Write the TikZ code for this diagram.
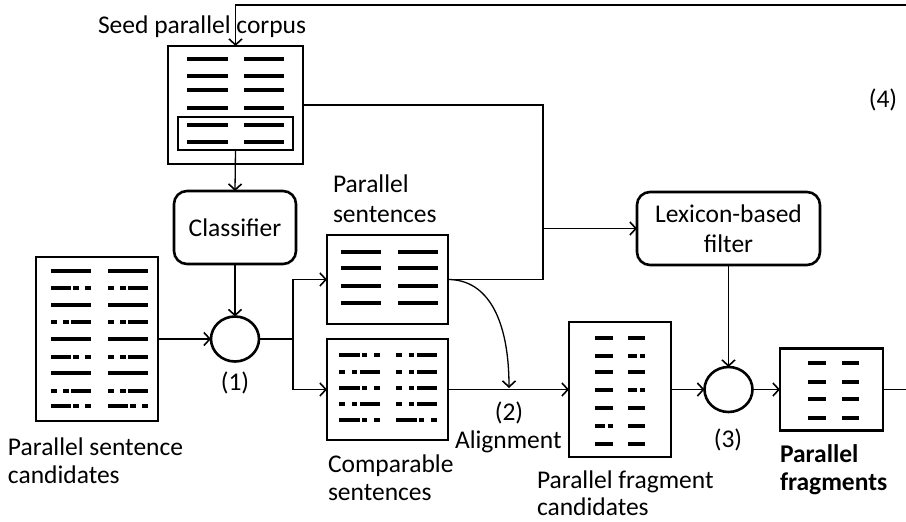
\documentclass[tikz,border=0pt]{standalone}
\usepackage{fontspec}
\setmainfont{Carlito}
\usetikzlibrary{arrows.meta,shapes.geometric,calc}
\newcommand\rowfull[3]{\draw[rowline] (#1,#2) -- ({#1+#3},#2);}
\newcommand\rowlead[3]{\draw[rowline] (#1,#2) -- ({#1+0.5*#3},#2) ({#1+0.55*#3},#2) -- ({#1+0.69*#3},#2) ({#1+0.85*#3},#2) -- ({#1+#3},#2);}
\newcommand\rowtrail[3]{\draw[rowline] (#1,#2) -- ({#1+0.15*#3},#2) ({#1+0.31*#3},#2) -- ({#1+0.45*#3},#2) ({#1+0.5*#3},#2) -- ({#1+#3},#2);}
\newcommand\rowfrag[3]{\draw[rowline] (#1,#2) -- ({#1+0.55*#3},#2) ({#1+0.72*#3},#2) -- ({#1+#3},#2);}
\begin{document}
\begin{tikzpicture}[x=1pt,y=-1pt,
  every node/.style={font=\fontsize{25.5}{28}\selectfont, inner sep=0pt, outer sep=0pt},
  docbox/.style={draw, line width=2.6pt, rectangle},
  procbox/.style={draw, line width=2.6pt, rectangle, rounded corners=13pt},
  judge/.style={draw, ellipse, line width=2.6pt, minimum width=48pt, minimum height=45pt},
  conn/.style={line width=1.3pt},
  arr/.style={conn, -{Straight Barb[length=6pt,width=13pt,line width=1.6pt]}},
  rowline/.style={line width=3.6pt, line cap=butt},
  lbl/.style={anchor=base west, align=left}]
\useasboundingbox (0,0) rectangle (906,522);
\clip (0,0) rectangle (906,522);

% boxes
\node[docbox, minimum width=135pt, minimum height=118pt] (seed) at (235.5,105) {};
\node[docbox, minimum width=115pt, minimum height=33pt] (seedsub) at (235.5,133.5) {};
\node[procbox, minimum width=122pt, minimum height=73pt] (classifier) at (235,227.5) {Classifier};
\node[procbox, minimum width=183pt, minimum height=73pt, align=center, font=\fontsize{25.5}{30}\selectfont] (lexicon) at (728.5,228.5) {Lexicon-based\\filter};
\node[docbox, minimum width=122pt, minimum height=164pt] (cand) at (97,339) {};
\node[judge] (circ1) at (235,339) {};
\node[docbox, minimum width=121pt, minimum height=89pt] (psent) at (387.5,279.5) {};
\node[docbox, minimum width=121pt, minimum height=101pt] (comp) at (387.5,389.5) {};
\node[docbox, minimum width=102pt, minimum height=135pt] (fcand) at (620,389.5) {};
\node[judge] (circ3) at (728.5,389.5) {};
\node[docbox, minimum width=103pt, minimum height=82pt] (frag) at (831.5,389.5) {};

% rows: seed corpus
\foreach \y in {59,76,90,108,125,142} {\rowfull{187}{\y}{41} \rowfull{244}{\y}{40}}
% rows: candidates
\rowfull{51}{271}{40} \rowfull{108}{271}{40}
\rowlead{51}{288}{40} \rowtrail{108}{288}{40}
\rowfull{51}{305}{40} \rowfull{108}{305}{40}
\rowtrail{51}{322}{40} \rowtrail{108}{322}{40}
\rowfull{51}{339}{40} \rowfull{108}{339}{40}
\rowlead{51}{357}{40} \rowtrail{108}{357}{40}
\rowfull{51}{373}{40} \rowfull{108}{373}{40}
\rowtrail{51}{391}{40} \rowtrail{108}{391}{40}
\rowlead{51}{406}{40} \rowlead{108}{406}{40}
% rows: parallel sentences
\foreach \y in {252,268,286,303} {\rowfull{341}{\y}{40} \rowfull{398}{\y}{40}}
% rows: comparable
\rowlead{339}{355}{41} \rowtrail{396}{355}{41}
\rowtrail{339}{372}{41} \rowtrail{396}{372}{41}
\rowlead{339}{388}{41} \rowtrail{396}{388}{41}
\rowtrail{339}{404}{41} \rowtrail{396}{404}{41}
\rowlead{339}{420}{41} \rowlead{396}{420}{41}
% rows: fragment candidates
\rowfull{595}{338}{18} \rowfull{628}{338}{17}
\rowfull{595}{356}{18} \rowfrag{628}{356}{17}
\rowfull{595}{372}{18} \rowfull{628}{372}{17}
\rowfull{595}{390}{18} \rowfrag{628}{390}{17}
\rowfull{595}{408}{18} \rowfull{628}{408}{17}
\rowfrag{595}{426}{18} \rowfull{628}{426}{17}
\rowfull{595}{444}{18} \rowfull{628}{444}{17}
% rows: fragments
\foreach \y in {363,382,399,418} {\rowfull{808}{\y}{18} \rowfull{842}{\y}{17}}

% labels (base anchor = baseline of the last line)
\node[lbl] (tseed) at (98,33) {Seed parallel corpus};
\node[lbl, font=\fontsize{25.5}{30}\selectfont] (tpsent) at (333,222) {Parallel\\sentences};
\node[lbl] (tcand) at (8,483) {Parallel sentence\\candidates};
\node[lbl] (tcomp) at (328,500) {Comparable\\sentences};
\node[lbl] (talign) at (455,448) {Alignment};
\node[lbl, font=\fontsize{25.5}{27}\selectfont] (tfcand) at (537,515) {Parallel fragment\\candidates};
\node[lbl, font=\fontsize{25.5}{28}\selectfont\bfseries] (tfrag) at (780,490) {Parallel\\fragments};
\node[anchor=base] (t1) at (235,390) {(1)};
\node[anchor=base] (t2) at (509,420) {(2)};
\node[anchor=base] (t3) at (728,447) {(3)};
\node[anchor=base] (t4) at (883,107) {(4)};

% connectors
\coordinate (fbT) at (925,5);
\coordinate (split) at (293,339);
\coordinate (merge) at (543,228.5);
\coordinate (alignpt) at (509,388);
\draw[arr] (frag.east) -| (fbT) -| (seed.north);
\draw[arr] (seedsub.south) -- (classifier.north);
\draw[arr] (classifier.south) -- (circ1.north);
\draw[arr] (cand.east) -- (circ1.west);
\draw[arr] (circ1.east) -- (split) |- (psent.west);
\draw[arr] (split) |- (comp.west);
\draw[conn] (seed.east) -| (merge);
\draw[conn] (psent.east) -| (merge);
\draw[arr] (merge) -- (lexicon.west);
\draw[arr] (psent.east) .. controls (488,279.5) and (509,320) .. (alignpt);
\draw[arr] (comp.east) -- (fcand.west);
\draw[arr] (fcand.east) -- (circ3.west);
\draw[arr] (lexicon.south) -- (circ3.north);
\draw[arr] (circ3.east) -- (frag.west);
\end{tikzpicture}
\end{document}
